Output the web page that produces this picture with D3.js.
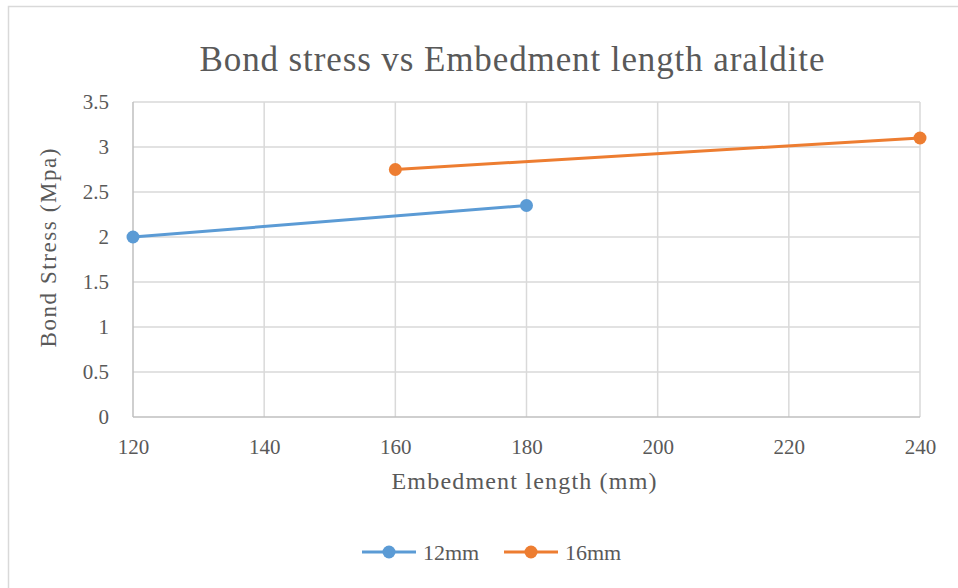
<!DOCTYPE html>
<html>
<head>
<meta charset="utf-8">
<script src="https://cdn.jsdelivr.net/npm/d3@7"></script>
<style>
  body { margin: 0; background: #fff; }
  text { font-family: "Liberation Serif", "Times New Roman", serif; fill: #595959; }
</style>
</head>
<body>
<div id="chart"></div>
<script>
// data
var seriesNames = ["12mm", "16mm"];
var seriesColors = ["#5b9bd5", "#ed7d31"];
var lengths12 = [120, 180];
var stress12 = [2.0, 2.35];
var lengths16 = [160, 240];
var stress16 = [2.75, 3.1];
var xTicks = [120, 140, 160, 180, 200, 220, 240];
var yTicks = [0, 0.5, 1, 1.5, 2, 2.5, 3, 3.5];

var W = 958, H = 588;
var margin = { top: 102, left: 133, bottom: 171, right: 38 };
var width = W - margin.left - margin.right;
var height = H - margin.top - margin.bottom;

var svg = d3.select("#chart").append("svg")
	.attr("width", W)
	.attr("height", H);

// chart border
svg.append("rect")
	.attr("x", 8.5).attr("y", 6.5)
	.attr("width", W + 10).attr("height", H + 10)
	.attr("fill", "none")
	.attr("stroke", "#d9d9d9")
	.attr("stroke-width", 1.5);

var g = svg.append("g")
	.attr("transform", "translate(" + margin.left + "," + margin.top + ")");

var x = d3.scaleLinear().domain([120, 240]).range([0, width]);
var y = d3.scaleLinear().domain([0, 3.5]).range([height, 0]);

// grid
g.append("g").selectAll("line")
	.data(yTicks.slice(1))
	.enter().append("line")
	.attr("x1", 0).attr("x2", width)
	.attr("y1", function(d) { return y(d); })
	.attr("y2", function(d) { return y(d); })
	.attr("stroke", "#d9d9d9").attr("stroke-width", 1.5);

g.append("g").selectAll("line")
	.data(xTicks.slice(1))
	.enter().append("line")
	.attr("x1", function(d) { return x(d); })
	.attr("x2", function(d) { return x(d); })
	.attr("y1", 0).attr("y2", height)
	.attr("stroke", "#d9d9d9").attr("stroke-width", 1.5);

// axes lines
g.append("line").attr("x1", 0).attr("x2", 0).attr("y1", 0).attr("y2", height)
	.attr("stroke", "#bfbfbf").attr("stroke-width", 1.5);
g.append("line").attr("x1", 0).attr("x2", width).attr("y1", height).attr("y2", height)
	.attr("stroke", "#bfbfbf").attr("stroke-width", 1.5);

// tick labels via axes
var xAxis = g.append("g")
	.attr("transform", "translate(0," + height + ")")
	.call(d3.axisBottom(x).tickValues(xTicks).tickSize(0).tickPadding(22));
var yAxis = g.append("g")
	.call(d3.axisLeft(y).tickValues(yTicks).tickSize(0).tickPadding(24).tickFormat(d3.format("")));
[xAxis, yAxis].forEach(function(a) {
	a.select(".domain").remove();
	a.selectAll("text")
		.attr("font-size", 21)
		.attr("fill", "#595959");
});

// series
var series = [
	{ name: seriesNames[0], color: seriesColors[0], xs: lengths12, ys: stress12 },
	{ name: seriesNames[1], color: seriesColors[1], xs: lengths16, ys: stress16 }
];

var line = d3.line()
	.x(function(d) { return x(d[0]); })
	.y(function(d) { return y(d[1]); });

series.forEach(function(s) {
	var pts = s.xs.map(function(v, i) { return [v, s.ys[i]]; });
	g.append("path")
		.datum(pts)
		.attr("d", line)
		.attr("fill", "none")
		.attr("stroke", s.color)
		.attr("stroke-width", 3);
	g.selectAll(null)
		.data(pts)
		.enter().append("circle")
		.attr("cx", function(d) { return x(d[0]); })
		.attr("cy", function(d) { return y(d[1]); })
		.attr("r", 6.5)
		.attr("fill", s.color);
});

// title
svg.append("text")
	.attr("x", 512).attr("y", 71)
	.attr("text-anchor", "middle")
	.attr("font-size", 35)
	.attr("textLength", 625)
	.attr("lengthAdjust", "spacing")
	.text("Bond stress vs Embedment length araldite");

// axis titles
svg.append("text")
	.attr("x", 524).attr("y", 489)
	.attr("text-anchor", "middle")
	.attr("font-size", 24)
	.attr("textLength", 265)
	.attr("lengthAdjust", "spacing")
	.text("Embedment length (mm)");

svg.append("text")
	.attr("transform", "translate(56,248) rotate(-90)")
	.attr("text-anchor", "middle")
	.attr("font-size", 23)
	.attr("textLength", 199)
	.attr("lengthAdjust", "spacing")
	.text("Bond Stress (Mpa)");

// legend
var legend = svg.append("g").selectAll("g")
	.data(series)
	.enter().append("g")
	.attr("transform", function(d, i) { return "translate(" + (362 + i * 142) + ",552)"; });

legend.append("line")
	.attr("x1", 0).attr("x2", 54)
	.attr("stroke", function(d) { return d.color; })
	.attr("stroke-width", 3);
legend.append("circle")
	.attr("cx", 27).attr("r", 6.5)
	.attr("fill", function(d) { return d.color; });
legend.append("text")
	.attr("x", 61).attr("y", 8)
	.attr("font-size", 22)
	.text(function(d) { return d.name; });
</script>
</body>
</html>
